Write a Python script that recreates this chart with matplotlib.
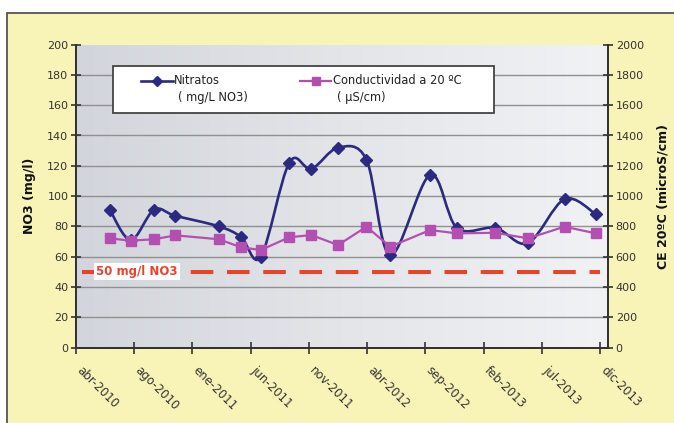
import matplotlib
matplotlib.use('Agg')
import matplotlib.pyplot as plt
import matplotlib.dates as mdates
from matplotlib.path import Path
from matplotlib.patches import PathPatch, Rectangle
from matplotlib.lines import Line2D
from matplotlib.colors import LinearSegmentedColormap
import numpy as np

# ---------------- data ----------------
fechas = ['2010-06-27', '2010-08-20', '2010-10-19', '2010-12-13', '2011-04-04',
          '2011-05-31', '2011-07-21', '2011-10-02', '2011-11-28', '2012-02-05',
          '2012-04-18', '2012-06-18', '2012-09-29', '2012-12-07', '2013-03-16',
          '2013-06-08', '2013-09-10', '2013-11-30']
nitratos = [91, 71, 91, 87, 80, 73, 60, 122, 118, 132, 124, 61, 114, 79, 79, 69, 98, 88]
conductividad = [721, 706, 715, 741, 715, 662, 644, 728, 743, 677, 798, 666, 776,
                 754, 758, 721, 798, 754]
tick_labels = ['abr-2010', 'ago-2010', 'ene-2011', 'jun-2011', 'nov-2011',
               'abr-2012', 'sep-2012', 'feb-2013', 'jul-2013', 'dic-2013']
eje_inicio = '2010-04-01'
eje_fin = '2013-12-31'
paso_dias = 150
limite = 50
limite_label = '50 mg/l NO3'
serie1_label = 'Nitratos\n( mg/L NO3)'
serie2_label = 'Conductividad a 20 ºC\n( µS/cm)'

# ---------------- style ----------------
W, H = 674, 423
NAVY = '#2c2a80'
MAG = '#b44fb2'
RED = '#e8442c'
YEL = '#f8f3b6'
plt.rcParams['font.family'] = ['DejaVu Sans']

def fx(px):
    return px / W

def fy(py):
    return 1 - py / H

fig = plt.figure(figsize=(W / 100, H / 100), dpi=100)
fig.patch.set_facecolor('white')
fig.add_artist(Rectangle((fx(7), -0.01), 1.05, fy(13) + 0.01, transform=fig.transFigure,
                         facecolor=YEL, edgecolor='#555555', lw=1.3, zorder=-10))

left, right, top, bottom = 76, 608, 44.6, 347.6
ax = fig.add_axes([fx(left), fy(bottom), fx(right) - fx(left), fy(top) - fy(bottom)])
ax.set_facecolor('none')

x = mdates.date2num(np.array(fechas, dtype='datetime64[D]'))
x0 = mdates.date2num(np.datetime64(eje_inicio))
x1 = mdates.date2num(np.datetime64(eje_fin))
ticks = x0 + np.arange(len(tick_labels)) * paso_dias

ax.set_xlim(x0, x1)
ax.set_ylim(0, 200)

# gradient background of plot area
grad = np.linspace(0, 1, 256).reshape(1, -1)
cmap = LinearSegmentedColormap.from_list('g', ['#d2d5db', '#e3e5e9', '#f1f2f4'])
ax.imshow(grad, extent=[x0, x1, 0, 200], aspect='auto', cmap=cmap, zorder=0,
          interpolation='bilinear')

for v in range(20, 200, 20):
    ax.axhline(v, color='#909090', lw=1.0, zorder=1)

# limit line
ax.axhline(limite, xmin=0.011, xmax=0.985, color=RED, lw=2.9, dashes=(5.6, 3.4), zorder=2)
ax.text(x0 + (x1 - x0) * 0.115, limite, limite_label, color=RED, fontsize=8.5,
        fontweight='bold', ha='center', va='center', zorder=3,
        bbox=dict(facecolor='white', edgecolor='none', pad=1.5))

# smoothed nitrate line (Bezier through points)
pts = np.column_stack([x, nitratos]).astype(float)
verts = [pts[0]]
codes = [Path.MOVETO]
n = len(pts)
for i in range(n - 1):
    p0 = pts[i - 1] if i > 0 else pts[i]
    p1 = pts[i]
    p2 = pts[i + 1]
    p3 = pts[i + 2] if i + 2 < n else pts[i + 1]
    c1 = p1 + (p2 - p0) / 6
    c2 = p2 - (p3 - p1) / 6
    verts += [c1, c2, p2]
    codes += [Path.CURVE4] * 3
ax.add_patch(PathPatch(Path(verts, codes), fill=False, edgecolor=NAVY, lw=1.9, zorder=4))
ax.plot(x, nitratos, linestyle='none', marker='D', ms=6.5, color=NAVY, zorder=5)

ax2 = ax.twinx()
ax2.set_ylim(0, 2000)
ax2.plot(x, conductividad, color=MAG, lw=1.6, marker='s', ms=7.5, zorder=5)

# axes styling
for a in (ax, ax2):
    a.spines['top'].set_visible(False)
    for s in ('left', 'right', 'bottom'):
        a.spines[s].set_color('#333333')
        a.spines[s].set_linewidth(1.4)

ax.set_yticks(range(0, 201, 20))
ax.tick_params(axis='y', direction='inout', length=7, width=1.2, color='#333333',
               labelsize=8, labelcolor='#333333', pad=2)
ax2.set_yticks(range(0, 2001, 200))
ax2.tick_params(axis='y', direction='inout', length=7, width=1.2, color='#333333',
                labelsize=8, labelcolor='#333333', pad=2)
ax.set_xticks(ticks)
ax.set_xticklabels(tick_labels, rotation=-45, ha='left', va='top',
                   rotation_mode='anchor', fontsize=8.5, color='#333333')
ax.tick_params(axis='x', direction='inout', length=8, width=1.2, color='#333333', pad=8)
for lbl in ax.get_xticklabels():
    lbl.set_transform(lbl.get_transform() +
                      matplotlib.transforms.ScaledTranslation(0.07, 0, fig.dpi_scale_trans))

ax.set_ylabel('NO3 (mg/l)', fontsize=9, fontweight='bold', color='#111111', labelpad=8)
ax2.set_ylabel('CE 20ºC (microS/cm)', fontsize=9, fontweight='bold', color='#111111',
               labelpad=9)

# legend box (manual)
fig.add_artist(Rectangle((fx(113), fy(113)), fx(494) - fx(113), fy(66) - fy(113),
                         transform=fig.transFigure, facecolor='white',
                         edgecolor='#444444', lw=1.3, zorder=20))
fig.add_artist(Line2D([fx(141), fx(173)], [fy(81), fy(81)], transform=fig.transFigure,
                      color=NAVY, lw=1.9, zorder=21))
fig.add_artist(Line2D([fx(157)], [fy(81)], transform=fig.transFigure, color=NAVY,
                      marker='D', ms=5.5, zorder=22))
fig.add_artist(Line2D([fx(300), fx(331)], [fy(81), fy(81)], transform=fig.transFigure,
                      color=MAG, lw=1.6, zorder=21))
fig.add_artist(Line2D([fx(315.5)], [fy(81)], transform=fig.transFigure, color=MAG,
                      marker='s', ms=6, zorder=22))
l1, l1b = serie1_label.split('\n')
l2, l2b = serie2_label.split('\n')
fig.text(fx(174), fy(81), l1, fontsize=8.3, color='#222222', va='center', ha='left', zorder=23)
fig.text(fx(178), fy(98), l1b, fontsize=8.3, color='#222222', va='center', ha='left', zorder=23)
fig.text(fx(333), fy(81), l2, fontsize=8.3, color='#222222', va='center', ha='left', zorder=23)
fig.text(fx(337), fy(98), l2b, fontsize=8.3, color='#222222', va='center', ha='left', zorder=23)

fig.savefig('out.png', dpi=100)
